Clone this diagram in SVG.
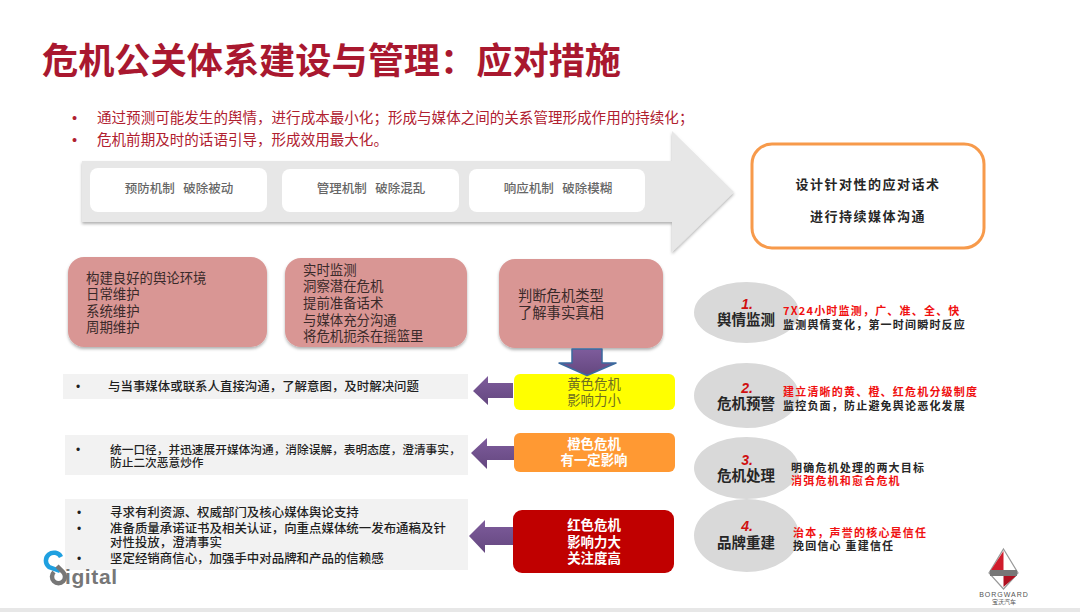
<svg xmlns="http://www.w3.org/2000/svg" width="1080" height="612" viewBox="0 0 1080 612">
<defs>
<filter id="sh" x="-5%" y="-10%" width="110%" height="125%"><feDropShadow dx="0" dy="2" stdDeviation="1.5" flood-color="#000" flood-opacity="0.3"/></filter>
<linearGradient id="pu" x1="0" y1="0" x2="0" y2="1"><stop offset="0" stop-color="#7E5C9C"/><stop offset="1" stop-color="#64477F"/></linearGradient>
</defs>
<style>
text{font-family:"Noto Sans CJK SC","Liberation Sans",sans-serif}
.t{font-size:12.45px;fill:#1f1f1f;font-weight:500}
.dot{font-size:12px;fill:#1f1f1f;font-family:"Liberation Sans",sans-serif}
.pk{font-size:13.4px;fill:#3a2a2a}
.box{fill:#fff}
.bt{font-size:12.5px;fill:#666;text-anchor:middle;font-weight:500}
.strip{fill:#F2F2F2}
.pink{fill:#D99694;filter:url(#sh)}
.el{fill:#D9D9D9}
.en{font-size:14.5px;font-weight:700;fill:#262626;text-anchor:middle}
.num{font-size:14px;font-weight:700;font-style:italic;fill:#D01010;font-family:"Liberation Sans",sans-serif}
.r{font-size:11px;font-weight:700;letter-spacing:1.2px}
.red{fill:#F01010}.blk{fill:#262626}
.cw{font-size:13.4px;font-weight:700;fill:#fff;text-anchor:middle}
.ar{fill:url(#pu)}
.lat{font-family:"Liberation Sans",sans-serif}
</style>
<rect width="1080" height="612" fill="#fff"/>
<rect y="608" width="1080" height="4" fill="#E7E7E7"/>
<text id="title" x="42" y="74" font-size="36.200" font-weight="700" fill="#A9182F">危机公关体系建设与管理&#xFF1A;应对措施</text>
<g id="intro" font-size="14.55" fill="#B0202F">
<text class="lat" x="72" y="123">•</text><text x="97" y="123">通过预测可能发生的舆情&#xFF0C;进行成本最小化&#xFF1B;形成与媒体之间的关系管理形成作用的持续化&#xFF1B;</text>
<text class="lat" x="72" y="145">•</text><text x="97" y="145">危机前期及时的话语引导&#xFF0C;形成效用最大化。</text>
</g>
<g id="big-arrow"><path d="M82 161H672V131L734 192L672 252V222H82Z" fill="#E7E7E7" filter="url(#sh)"/></g>
<g id="mech1"><rect class="box" x="90" y="168" width="177" height="44" rx="8"/><text class="bt" x="179" y="193" xml:space="preserve">预防机制   破除被动</text></g>
<g id="mech2"><rect class="box" x="282" y="169" width="177" height="43" rx="8"/><text class="bt" x="371" y="193" xml:space="preserve">管理机制   破除混乱</text></g>
<g id="mech3"><rect class="box" x="469" y="169" width="176" height="43" rx="8"/><text class="bt" x="558" y="193" xml:space="preserve">响应机制   破除模糊</text></g>
<g id="speech"><rect x="752" y="144" width="232" height="104" rx="20" fill="#fff" stroke="#F79A4B" stroke-width="3"/>
<text x="868" y="189" font-size="13" font-weight="700" fill="#262626" text-anchor="middle" letter-spacing="1.5">设计针对性的应对话术</text>
<text x="868" y="221" font-size="13" font-weight="700" fill="#262626" text-anchor="middle" letter-spacing="1.5">进行持续媒体沟通</text></g>
<g id="p1"><rect class="pink" x="68" y="257" width="199" height="90" rx="16"/>
<text class="pk" x="86" y="283">构建良好的舆论环境<tspan x="86" dy="16">日常维护</tspan><tspan x="86" dy="17">系统维护</tspan><tspan x="86" dy="16">周期维护</tspan></text></g>
<g id="p2"><rect class="pink" x="285" y="258" width="182" height="89" rx="16"/>
<text class="pk" x="303" y="275">实时监测<tspan x="303" dy="16">洞察潜在危机</tspan><tspan x="303" dy="17">提前准备话术</tspan><tspan x="303" dy="17">与媒体充分沟通</tspan><tspan x="303" dy="16">将危机扼杀在摇篮里</tspan></text></g>
<g id="p3"><rect class="pink" x="499" y="259" width="164" height="89" rx="16"/>
<text class="pk" x="518" y="301" style="font-size:14.3px">判断危机类型<tspan x="518" dy="17">了解事实真相</tspan></text></g>
<g id="s1"><rect class="strip" x="63" y="374" width="405" height="25"/><text class="dot" x="76" y="391">•</text><text class="t" x="108" y="391">与当事媒体或联系人直接沟通&#xFF0C;了解意图&#xFF0C;及时解决问题</text></g>
<g id="s2"><rect class="strip" x="65" y="435" width="403" height="40"/><text class="dot" x="76" y="454">•</text><text class="t" style="font-size:11.7px" x="110" y="454">统一口径&#xFF0C;并迅速展开媒体沟通&#xFF0C;消除误解&#xFF0C;表明态度&#xFF0C;澄清事实&#xFF0C;<tspan x="110" dy="13">防止二次恶意炒作</tspan></text></g>
<g id="s3"><rect class="strip" x="65" y="499" width="403" height="71"/><text class="dot" x="77" y="517">•</text><text class="dot" x="77" y="533">•</text><text class="dot" x="77" y="563">•</text><text class="t" x="110" y="517">寻求有利资源、权威部门及核心媒体舆论支持<tspan x="110" dy="16">准备质量承诺证书及相关认证&#xFF0C;向重点媒体统一发布通稿及针</tspan><tspan x="110" dy="14">对性投放&#xFF0C;澄清事实</tspan><tspan x="110" dy="16">坚定经销商信心&#xFF0C;加强手中对品牌和产品的信赖感</tspan></text></g>
<g id="c1"><rect x="514" y="374" width="161" height="36" rx="6" fill="#FFFF00"/><text x="594" y="389" font-size="13.4" fill="#6E6E20" text-anchor="middle">黄色危机<tspan x="594" dy="16">影响力小</tspan></text></g>
<g id="c2"><rect x="514" y="433" width="161" height="39" rx="6" fill="#FF9933"/><text class="cw" x="594" y="449">橙色危机<tspan x="594" dy="16">有一定影响</tspan></text></g>
<g id="c3"><rect x="513" y="510" width="161" height="63" rx="9" fill="#C00000"/><text class="cw" x="594" y="530">红色危机<tspan x="594" dy="17">影响力大</tspan><tspan x="594" dy="16">关注度高</tspan></text></g>
<g id="connectors">
<path class="ar" d="M572 349H602V363H616L587 375.500L559 363H572Z" stroke="#3B6A9E" stroke-width="1.500" stroke-linejoin="round"/>
<path class="ar" d="M513 383H488V376L473 391L488 405V398H513Z"/>
<path class="ar" d="M514 446H487V438L471 453L487 469V460H514Z"/>
<path class="ar" d="M513 527H485V520L469 536L485 553V545H513Z"/>
</g>
<g id="e1"><ellipse class="el" cx="746.500" cy="312.500" rx="52.500" ry="30.500"/><text class="en" x="747" y="309"><tspan class="num">1.</tspan><tspan x="746" dy="16">舆情监测</tspan></text>
<text class="r red" x="783" y="315">7X24小时监测&#xFF0C;广、准、全、快<tspan class="blk" x="783" dy="14">监测舆情变化&#xFF0C;第一时间瞬时反应</tspan></text></g>
<g id="e2"><ellipse class="el" cx="746.500" cy="395.500" rx="52.500" ry="32.500"/><text class="en" x="747" y="393"><tspan class="num">2.</tspan><tspan x="746" dy="16">危机预警</tspan></text>
<text class="r red" x="783" y="396">建立清晰的黄、橙、红危机分级制度<tspan class="blk" x="783" dy="14">监控负面&#xFF0C;防止避免舆论恶化发展</tspan></text></g>
<g id="e3"><ellipse class="el" cx="746.500" cy="468" rx="52.500" ry="31"/><text class="en" x="747" y="465"><tspan class="num">3.</tspan><tspan x="746" dy="16">危机处理</tspan></text>
<text class="r blk" x="791" y="472">明确危机处理的两大目标<tspan class="red" x="791" dy="13">消弭危机和愈合危机</tspan></text></g>
<g id="e4"><ellipse class="el" cx="746.500" cy="535.500" rx="52.500" ry="36.500"/><text class="en" x="747" y="531"><tspan class="num">4.</tspan><tspan x="746" dy="17">品牌重建</tspan></text>
<text class="r red" x="793" y="537">治本&#xFF0C;声誉的核心是信任<tspan class="blk" x="793" dy="13">挽回信心 重建信任</tspan></text></g>
<g id="logo-digital">
<path d="M61 557A8 8 0 1 0 49 567L60 571" fill="none" stroke="#1FA0E0" stroke-width="4.500"/>
<path d="M57 566L63 572A6.500 6.500 0 1 1 54 572" fill="none" stroke="#777" stroke-width="4.500"/>
<text x="65" y="584" style="font-family:'Liberation Sans',sans-serif;font-size:21px;font-weight:700;letter-spacing:.6px" fill="#777">igital</text>
</g>
<g id="logo-borgward">
<path d="M1003.500 549L1018 573L1003.500 589L989 573Z" fill="#fff" stroke="#999" stroke-width="1.200"/>
<path d="M1003.500 551V570H991Z" fill="#D01C2C"/>
<path d="M1003.500 587V576H1016Z" fill="#B01020"/>
<rect x="990" y="570" width="27" height="6" fill="#777"/>
<text x="1004" y="597" style="font-family:'Liberation Sans',sans-serif;font-size:7px;letter-spacing:1px" fill="#555" text-anchor="middle">BORGWARD</text>
<text x="1004" y="604" font-size="6" fill="#555" text-anchor="middle">宝沃汽车</text>
</g>
</svg>
